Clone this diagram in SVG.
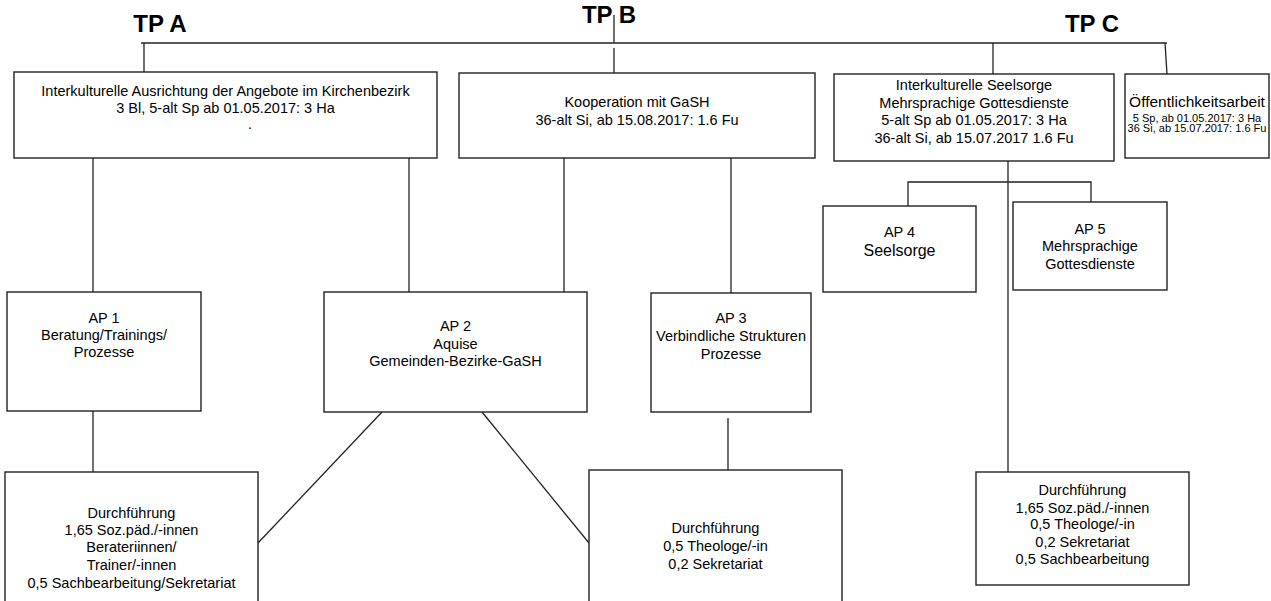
<svg xmlns="http://www.w3.org/2000/svg" width="1271" height="601" viewBox="0 0 1271 601">
<style>
.bx{fill:#fff;stroke:#222;stroke-width:1.4}
.ln{fill:none;stroke:#222;stroke-width:1.3}
text{font-family:"Liberation Sans",Arial,sans-serif;font-size:14.5px;fill:#000;text-anchor:middle}
.tp{font-size:24px;font-weight:bold}
.big{font-size:15.5px}
.sm{font-size:11px}
.sl{font-size:16px}
</style>
<rect width="1271" height="601" fill="#fff"/>
<g id="connectors">
<line class="ln" x1="141" y1="43" x2="1167" y2="43"/>
<line class="ln" x1="144" y1="43" x2="144" y2="72"/>
<line class="ln" x1="614" y1="15" x2="614" y2="43"/>
<line class="ln" x1="614" y1="48" x2="614" y2="73"/>
<line class="ln" x1="993" y1="43" x2="993" y2="74"/>
<line class="ln" x1="1165" y1="43" x2="1167" y2="74"/>
<line class="ln" x1="93" y1="158" x2="93" y2="292"/>
<line class="ln" x1="409" y1="158" x2="409" y2="292"/>
<line class="ln" x1="564" y1="158" x2="564" y2="292"/>
<line class="ln" x1="731" y1="158" x2="731" y2="293"/>
<line class="ln" x1="1008" y1="161" x2="1008" y2="472"/>
<polyline class="ln" points="908,206 908,182 1091,182 1091,202"/>
<line class="ln" x1="93" y1="411" x2="93" y2="472"/>
<line class="ln" x1="382" y1="412" x2="258" y2="543"/>
<line class="ln" x1="482" y1="412" x2="589" y2="543"/>
<line class="ln" x1="728" y1="418" x2="728" y2="470"/>
</g>
<g id="tpA"><text class="tp" x="160" y="32">TP A</text></g>
<g id="tpB"><text class="tp" x="609" y="23">TP B</text></g>
<g id="tpC"><text class="tp" x="1092" y="32">TP C</text></g>
<g id="A1">
<rect class="bx" x="14" y="72" width="423" height="86"/>
<text x="225.5" y="96">Interkulturelle Ausrichtung der Angebote im Kirchenbezirk</text>
<text x="225.5" y="113">3 Bl, 5-alt Sp ab 01.05.2017: 3 Ha</text>
<text x="250" y="129">.</text>
</g>
<g id="B1">
<rect class="bx" x="459" y="73" width="356" height="85"/>
<text x="637" y="107">Kooperation mit GaSH</text>
<text x="637" y="125">36-alt Si, ab 15.08.2017: 1.6 Fu</text>
</g>
<g id="C1">
<rect class="bx" x="834" y="74" width="280" height="87"/>
<text x="974" y="90">Interkulturelle Seelsorge</text>
<text x="974" y="107.5">Mehrsprachige Gottesdienste</text>
<text x="974" y="125">5-alt Sp ab 01.05.2017: 3 Ha</text>
<text x="974" y="143">36-alt Si, ab 15.07.2017 1.6 Fu</text>
</g>
<g id="C2">
<rect class="bx" x="1125" y="74" width="144" height="84"/>
<text class="big" x="1197" y="107">Öffentlichkeitsarbeit</text>
<text class="sm" x="1197" y="122">5 Sp, ab 01.05.2017: 3 Ha</text>
<text class="sm" x="1197" y="132">36 Si, ab 15.07.2017: 1.6 Fu</text>
</g>
<g id="AP1">
<rect class="bx" x="7" y="292" width="194" height="119"/>
<text x="104" y="323">AP 1</text>
<text x="104" y="340">Beratung/Trainings/</text>
<text x="104" y="357">Prozesse</text>
</g>
<g id="AP2">
<rect class="bx" x="324" y="292" width="263" height="120"/>
<text x="455.5" y="331">AP 2</text>
<text x="455.5" y="349">Aquise</text>
<text x="455.5" y="366">Gemeinden-Bezirke-GaSH</text>
</g>
<g id="AP3">
<rect class="bx" x="651" y="293" width="160" height="119"/>
<text x="731" y="323">AP 3</text>
<text x="731" y="341">Verbindliche Strukturen</text>
<text x="731" y="359">Prozesse</text>
</g>
<g id="AP4">
<rect class="bx" x="823" y="206" width="153" height="86"/>
<text x="899.5" y="237">AP 4</text>
<text class="sl" x="899.5" y="256">Seelsorge</text>
</g>
<g id="AP5">
<rect class="bx" x="1013" y="202" width="154" height="88"/>
<text x="1090" y="234">AP 5</text>
<text x="1090" y="251">Mehrsprachige</text>
<text x="1090" y="269">Gottesdienste</text>
</g>
<g id="D1">
<rect class="bx" x="5" y="472" width="253" height="140"/>
<text x="131.5" y="518">Durchführung</text>
<text x="131.5" y="535">1,65 Soz.päd./-innen</text>
<text x="131.5" y="552">Berateriinnen/</text>
<text x="131.5" y="570">Trainer/-innen</text>
<text x="131.5" y="588">0,5 Sachbearbeitung/Sekretariat</text>
</g>
<g id="D2">
<rect class="bx" x="589" y="470" width="253" height="142"/>
<text x="715.5" y="533">Durchführung</text>
<text x="715.5" y="551">0,5 Theologe/-in</text>
<text x="715.5" y="569">0,2 Sekretariat</text>
</g>
<g id="D3">
<rect class="bx" x="976" y="472" width="213" height="113"/>
<text x="1082.5" y="495">Durchführung</text>
<text x="1082.5" y="513">1,65 Soz.päd./-innen</text>
<text x="1082.5" y="529">0,5 Theologe/-in</text>
<text x="1082.5" y="547">0,2 Sekretariat</text>
<text x="1082.5" y="564">0,5 Sachbearbeitung</text>
</g>
</svg>
